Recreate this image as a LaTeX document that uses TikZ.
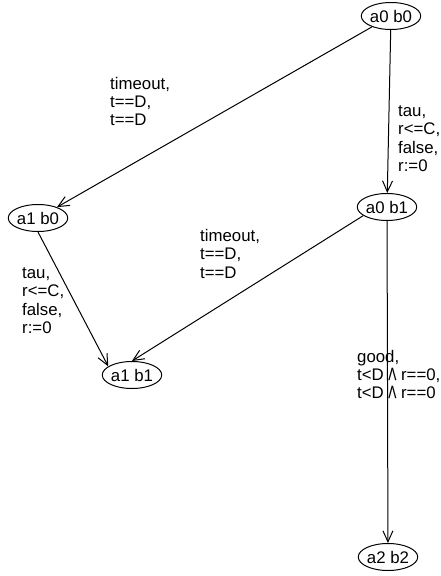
\documentclass[tikz,border=0pt]{standalone}
\usepackage{fontspec}
\setmainfont{Liberation Sans}
\usetikzlibrary{shapes.geometric,arrows.meta}
\newcommand\stk[1]{\vtop{\halign{##\hfil\cr#1\crcr}}}
\newcommand\wdg{/\kern-0.08em\textbackslash}
\begin{document}
\begin{tikzpicture}[x=1pt,y=-1pt,
  every node/.style={font=\fontsize{16.8}{18.3}\selectfont},
  st/.style={draw, ellipse, minimum width=59pt, minimum height=27pt, inner sep=0pt, line width=1pt},
  lbl/.style={anchor=base west, inner sep=0pt},
  tr/.style={draw, line width=1pt, -{Straight Barb[length=11pt,width=10pt]}}]
\useasboundingbox (0,0) rectangle (441,576);
\node[st] (a0b0) at (391,16) {a0 b0};
\node[st] (a1b0) at (38,218) {a1 b0};
\node[st] (a0b1) at (387,207) {a0 b1};
\node[st] (a1b1) at (132,375) {a1 b1};
\node[st] (a2b2) at (388,557) {a2 b2};
\node[lbl] (l1) at (110,89) {\stk{timeout,\cr t==D,\cr t==D}};
\node[lbl] (l2) at (398,116.5) {\stk{tau,\cr r<=C,\cr false,\cr r:=0}};
\node[lbl] (l3) at (200,241.5) {\stk{timeout,\cr t==D,\cr t==D}};
\node[lbl] (l4) at (22,278.5) {\stk{tau,\cr r<=C,\cr false,\cr r:=0}};
\node[lbl] (l5) at (357,362) {\stk{good,\cr t<D \wdg{} r==0,\cr t<D \wdg{} r==0}};
\draw[tr] (a0b0) -- (a1b0);
\draw[tr] (a0b0) -- (a0b1);
\draw[tr] (a1b0.south) -- (a1b1.160);
\draw[tr] (a0b1.200) -- (a1b1.north);
\draw[tr] (a0b1) -- (a2b2);
\end{tikzpicture}
\end{document}
